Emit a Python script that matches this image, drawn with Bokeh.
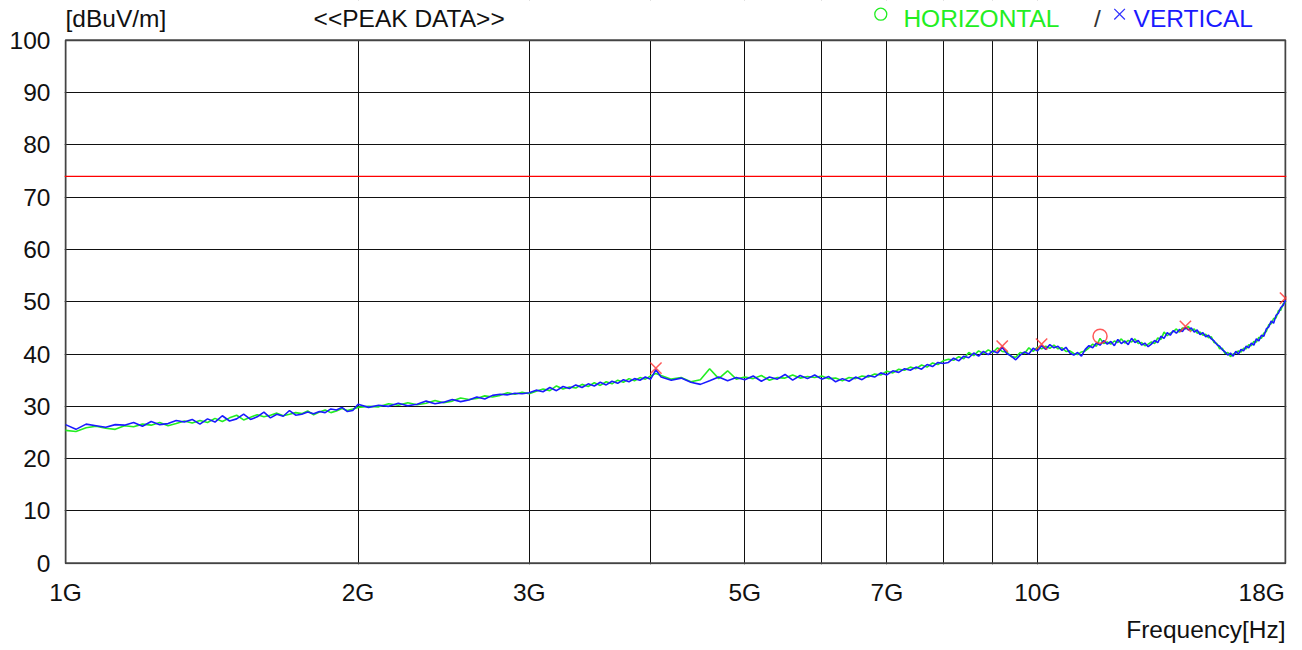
from bokeh.plotting import figure
from bokeh.models import FixedTicker, Span, Title
from bokeh.core.properties import value
from bokeh.embed import file_html
from bokeh.resources import INLINE

# ---------------- data (GHz, dBuV/m) ----------------
freq_ghz = [
    1.000, 1.025, 1.050, 1.075, 1.100, 1.125, 1.150, 1.175, 1.200, 1.225,
    1.250, 1.275, 1.300, 1.325, 1.350, 1.375, 1.400, 1.425, 1.450, 1.475,
    1.500, 1.525, 1.550, 1.575, 1.600, 1.625, 1.650, 1.675, 1.700, 1.725,
    1.750, 1.775, 1.800, 1.825, 1.850, 1.875, 1.900, 1.925, 1.950, 1.975,
    2.000,
    2.05, 2.10, 2.15, 2.20, 2.25, 2.30, 2.35, 2.40, 2.45, 2.50,
    2.55, 2.60, 2.65, 2.70, 2.75, 2.80, 2.85, 2.90, 2.95, 3.00,
    3.05, 3.10, 3.15, 3.20, 3.25, 3.30, 3.35, 3.40, 3.45, 3.50,
    3.55, 3.60, 3.65, 3.70, 3.75, 3.80, 3.85, 3.90, 3.95, 4.00,
    4.05, 4.1, 4.2, 4.3, 4.4, 4.5, 4.6, 4.7, 4.8, 4.9,
    5.0, 5.1, 5.2, 5.3, 5.4, 5.5, 5.6, 5.7, 5.8, 5.9,
    6.0, 6.1, 6.2, 6.3, 6.4, 6.5, 6.6, 6.7, 6.8, 6.9,
    7.0, 7.1, 7.2, 7.3, 7.4, 7.5, 7.6, 7.7, 7.8, 7.9,
    8.0,
    8.1, 8.2, 8.3, 8.4, 8.5, 8.6, 8.7, 8.8, 8.9, 9.0,
    9.1, 9.2, 9.3, 9.4, 9.5, 9.6, 9.7, 9.8, 9.9, 10.0,
    10.1, 10.2, 10.3, 10.4, 10.5, 10.6, 10.7, 10.8, 10.9, 11.0,
    11.1, 11.2, 11.3, 11.4, 11.5, 11.6, 11.7, 11.8, 11.9, 12.0,
    12.1, 12.2, 12.3, 12.4, 12.5, 12.6, 12.7, 12.8, 12.9, 13.0,
    13.1, 13.2, 13.3, 13.4, 13.5, 13.6, 13.7, 13.8, 13.9, 14.0,
    14.1, 14.2, 14.3, 14.4, 14.5, 14.6, 14.7, 14.8, 14.9, 15.0,
    15.1, 15.2, 15.3, 15.4, 15.5, 15.6, 15.7, 15.8, 15.9, 16.0,
    16.1, 16.2, 16.3, 16.4, 16.5, 16.6, 16.7, 16.8, 16.9, 17.0,
    17.1, 17.2, 17.3, 17.4, 17.5, 17.6, 17.7, 17.8, 17.9, 18.0,
]

horizontal = [
    25.4, 25.2, 25.9, 26.2, 25.8, 25.6, 26.3, 26.1, 26.6, 26.4,
    26.9, 26.3, 26.7, 27.2, 26.8, 27.3, 26.9, 27.7, 27.1, 27.8,
    28.3, 27.4, 27.9, 28.4, 28.0, 28.3, 28.7, 28.2, 28.5, 28.8,
    28.6, 29.1, 28.4, 28.9, 29.3, 28.8, 29.1, 29.6, 29.2, 29.5,
    29.8,
    30.0, 29.9, 30.5, 30.2, 30.7, 30.3, 30.6, 31.1, 30.7, 31.0,
    31.6, 31.3, 31.5, 32.0, 31.8, 32.1, 32.6, 32.3, 32.7, 32.4,
    32.9, 33.3, 33.0, 33.9, 33.3, 33.7, 33.5, 34.2, 33.8, 34.5,
    34.0, 34.7, 34.3, 35.0, 34.6, 35.3, 34.9, 35.5, 35.2, 35.8,
    36.3, 35.9, 35.2, 35.5, 34.7, 35.1, 37.2, 35.3, 36.8, 35.2,
    35.6, 35.3, 35.9, 35.0, 35.5, 35.4, 36.0, 35.4, 35.7, 35.5,
    35.8, 35.3, 35.4, 34.9, 35.5, 35.3, 35.8, 35.6, 36.2, 36.0,
    36.7, 36.4, 37.1, 36.9, 37.5, 37.2, 37.9, 37.5, 38.3, 38.0,
    38.7,
    39.0, 38.8, 39.5, 39.1, 40.3, 39.7, 40.6, 40.1, 40.8, 40.3,
    41.2, 40.5, 40.4, 39.5, 39.4, 40.3, 40.1, 41.2, 40.5, 41.3,
    41.0, 41.5, 41.1, 41.7, 41.0, 41.2, 40.5, 40.6, 40.1, 39.9,
    40.4, 40.6, 41.2, 41.9, 41.5, 43.0, 42.0, 42.3, 41.9, 42.5,
    42.2, 42.9, 42.1, 42.6, 42.3, 42.9, 42.0, 42.2, 41.6, 41.9,
    42.3, 42.0, 43.1, 42.8, 44.2, 43.5, 44.0, 44.3, 44.8, 44.2,
    45.0, 44.8, 45.3, 44.5, 44.8, 44.0, 44.2, 43.6, 43.8, 43.1,
    43.3, 42.2, 42.0, 41.0, 41.1, 40.1, 40.3, 39.5, 40.0, 40.2,
    40.6, 40.4, 41.1, 41.0, 41.8, 41.6, 42.4, 42.3, 43.2, 43.0,
    44.0, 44.3, 45.6, 45.8, 46.8, 46.9, 48.3, 48.4, 49.6, 49.9,
]

vertical = [
    26.5, 25.6, 26.6, 26.3, 26.0, 26.5, 26.4, 26.9, 26.2, 27.1,
    26.5, 26.7, 27.3, 27.0, 27.5, 26.6, 27.6, 27.0, 28.2, 27.2,
    27.6, 28.5, 27.5, 28.0, 28.9, 27.8, 28.5, 28.1, 29.2, 28.3,
    28.5, 28.9, 28.6, 29.0, 28.8, 29.5, 29.3, 29.8, 29.0, 29.2,
    30.4,
    29.8, 30.2, 30.0, 30.6, 30.1, 30.4, 31.0, 30.5, 30.8, 31.3,
    30.9, 31.2, 31.8, 31.4, 32.1, 32.3, 32.2, 32.5, 32.4, 32.6,
    33.1, 32.8, 33.6, 33.0, 33.8, 33.4, 34.1, 33.6, 34.3, 33.9,
    34.6, 34.1, 34.8, 34.4, 35.1, 34.7, 35.3, 35.0, 35.6, 35.2,
    37.0, 35.6, 35.0, 35.4, 34.6, 34.2, 34.9, 35.6, 34.9, 35.5,
    35.1, 35.8, 34.8, 35.6, 35.2, 36.1, 35.0, 35.9, 35.3, 36.0,
    35.2, 35.7, 34.7, 35.3, 34.8, 35.6, 35.1, 35.9, 35.6, 36.4,
    36.0, 36.8, 36.5, 37.2, 36.9, 37.5, 37.1, 38.0, 37.6, 38.4,
    38.2,
    38.4, 39.2, 38.7, 39.6, 39.3, 40.2, 39.6, 40.5, 39.9, 40.6,
    40.2, 41.3, 40.1, 39.6, 38.9, 39.8, 40.4, 40.0, 41.1, 40.6,
    41.6, 40.9, 41.8, 41.2, 41.5, 40.7, 41.3, 40.2, 39.8, 40.3,
    39.6, 40.9, 41.6, 41.2, 42.1, 41.7, 42.6, 41.9, 42.4, 41.6,
    42.8, 42.0, 42.5, 41.8, 43.0, 42.2, 42.6, 41.7, 42.1, 41.4,
    41.9, 42.6, 42.2, 43.4, 43.0, 44.1, 43.6, 44.5, 44.0, 44.7,
    44.3, 45.1, 44.6, 45.0, 44.2, 44.6, 43.7, 44.1, 43.3, 43.6,
    42.9, 42.5, 41.8, 41.5, 40.8, 40.4, 39.8, 40.2, 39.6, 40.5,
    40.0, 40.9, 40.6, 41.5, 41.2, 42.1, 41.7, 42.9, 42.5, 43.6,
    43.4, 44.8, 45.2, 46.3, 45.9, 47.4, 47.8, 48.9, 49.3, 50.3,
]

limit_level = 74.0

peak_v_freq = [4.05, 9.2, 10.1, 14.2, 18.0]
peak_v_level = [37.3, 41.5, 41.9, 45.3, 50.7]
peak_h_freq = [11.6]
peak_h_level = [43.4]

x_tick_vals = [1, 2, 3, 5, 7, 10, 18]
x_tick_text = ["1G", "2G", "3G", "5G", "7G", "10G", "18G"]
x_grid_vals = [2, 3, 4, 5, 6, 7, 8, 9, 10]
y_tick_vals = [0, 10, 20, 30, 40, 50, 60, 70, 80, 90, 100]
y_grid_vals = [10, 20, 30, 40, 50, 60, 70, 80, 90]

f_min, f_max = 1.0, 18.0
y_min, y_max = 0.0, 100.0

FONT = "Liberation Sans"
FS = "24.5px"
W = 1298

# The frame also holds the header row (unit, title, legend) above the 0-100 box;
# the strip above the box is blanked and the box is drawn as a rectangle.
p = figure(width=W, height=648, x_axis_type="log",
           x_range=(0.9976, 18.043), y_range=(-0.25, 107.62),
           output_backend="svg", toolbar_location=None,
           min_border_left=64, min_border_right=12,
           min_border_top=0, min_border_bottom=82)
p.background_fill_color = "white"
p.border_fill_color = "white"
p.outline_line_color = None

# x axis (last label kept inside the page, ending at the box edge)
p.xaxis.ticker = FixedTicker(ticks=x_tick_vals)
overrides = {v: t for v, t in zip(x_tick_vals, x_tick_text)}
overrides[18] = "18G" + "\u00a0" * 2
p.xaxis.major_label_overrides = overrides
p.xaxis.axis_line_color = None
p.xaxis.major_tick_line_color = None
p.xaxis.minor_tick_line_color = None
p.xaxis.major_tick_out = 0
p.xaxis.major_tick_in = 0
p.xaxis.major_label_text_font = FONT
p.xaxis.major_label_text_font_size = FS
p.xaxis.major_label_text_color = "#111111"
p.xaxis.major_label_standoff = 14

# y axis
p.yaxis.ticker = FixedTicker(ticks=y_tick_vals)
p.yaxis.axis_line_color = None
p.yaxis.major_tick_line_color = None
p.yaxis.minor_tick_line_color = None
p.yaxis.major_tick_out = 0
p.yaxis.major_tick_in = 0
p.yaxis.major_label_text_font = FONT
p.yaxis.major_label_text_font_size = FS
p.yaxis.major_label_text_color = "#111111"
p.yaxis.major_label_standoff = 14

# grids
p.xgrid.ticker = FixedTicker(ticks=x_grid_vals)
p.xgrid.grid_line_color = "#111111"
p.xgrid.grid_line_width = 1
p.ygrid.ticker = FixedTicker(ticks=y_grid_vals)
p.ygrid.grid_line_color = "#111111"
p.ygrid.grid_line_width = 1

# blank strip above the box (hides grid lines there), then the box itself
p.quad(left=[0.5], right=[40.0], bottom=[y_max], top=[200.0],
       fill_color="white", fill_alpha=1.0, line_color=None)
p.quad(left=[f_min], right=[f_max], bottom=[y_min], top=[y_max],
       fill_color=None, line_color="#444444", line_width=2)

# x-axis title, right aligned under the box
p.add_layout(Title(text="Frequency[Hz]", align="right", text_font=FONT,
                   text_font_size=FS, text_font_style="normal",
                   text_color="#111111", standoff=11, offset=1), "below")

# limit line
p.add_layout(Span(location=limit_level, dimension="width",
                  line_color="#ff0000", line_width=1.2))

# traces
p.line(freq_ghz, horizontal, line_color="#22ee22", line_width=1.6)
p.line(freq_ghz, vertical, line_color="#1a1aff", line_width=1.6)

# peak markers
p.scatter(peak_v_freq, peak_v_level, marker="x", size=16,
          line_color="#ff3030", line_width=1.5, line_alpha=0.8)
p.scatter(peak_h_freq, peak_h_level, marker="circle", size=14,
          fill_color=None, line_color="#ff3030", line_width=1.5, line_alpha=0.8)

# header row
ROW = 104.2
head_x = [1.0, 1.80, 7.28, 11.53, 12.56]
head_text = ["[dBuV/m]", "<<PEAK DATA>>", "HORIZONTAL", "/", "VERTICAL"]
head_color = ["#111111", "#111111", "#22ee22", "#333333", "#1a1aff"]
head_align = ["left", "left", "left", "center", "left"]
p.text(x=head_x, y=[ROW] * len(head_x), text=head_text, text_color=head_color,
       text_align=head_align, text_baseline="middle",
       text_font=value(FONT), text_font_size=FS)
p.scatter([6.90], [105.0], marker="circle", size=12, fill_color=None,
          line_color="#22ee22", line_width=1.3)
p.scatter([12.15], [105.0], marker="x", size=15,
          line_color="#3333ff", line_width=1.3)

open("out.html", "w").write(file_html(p, INLINE))
